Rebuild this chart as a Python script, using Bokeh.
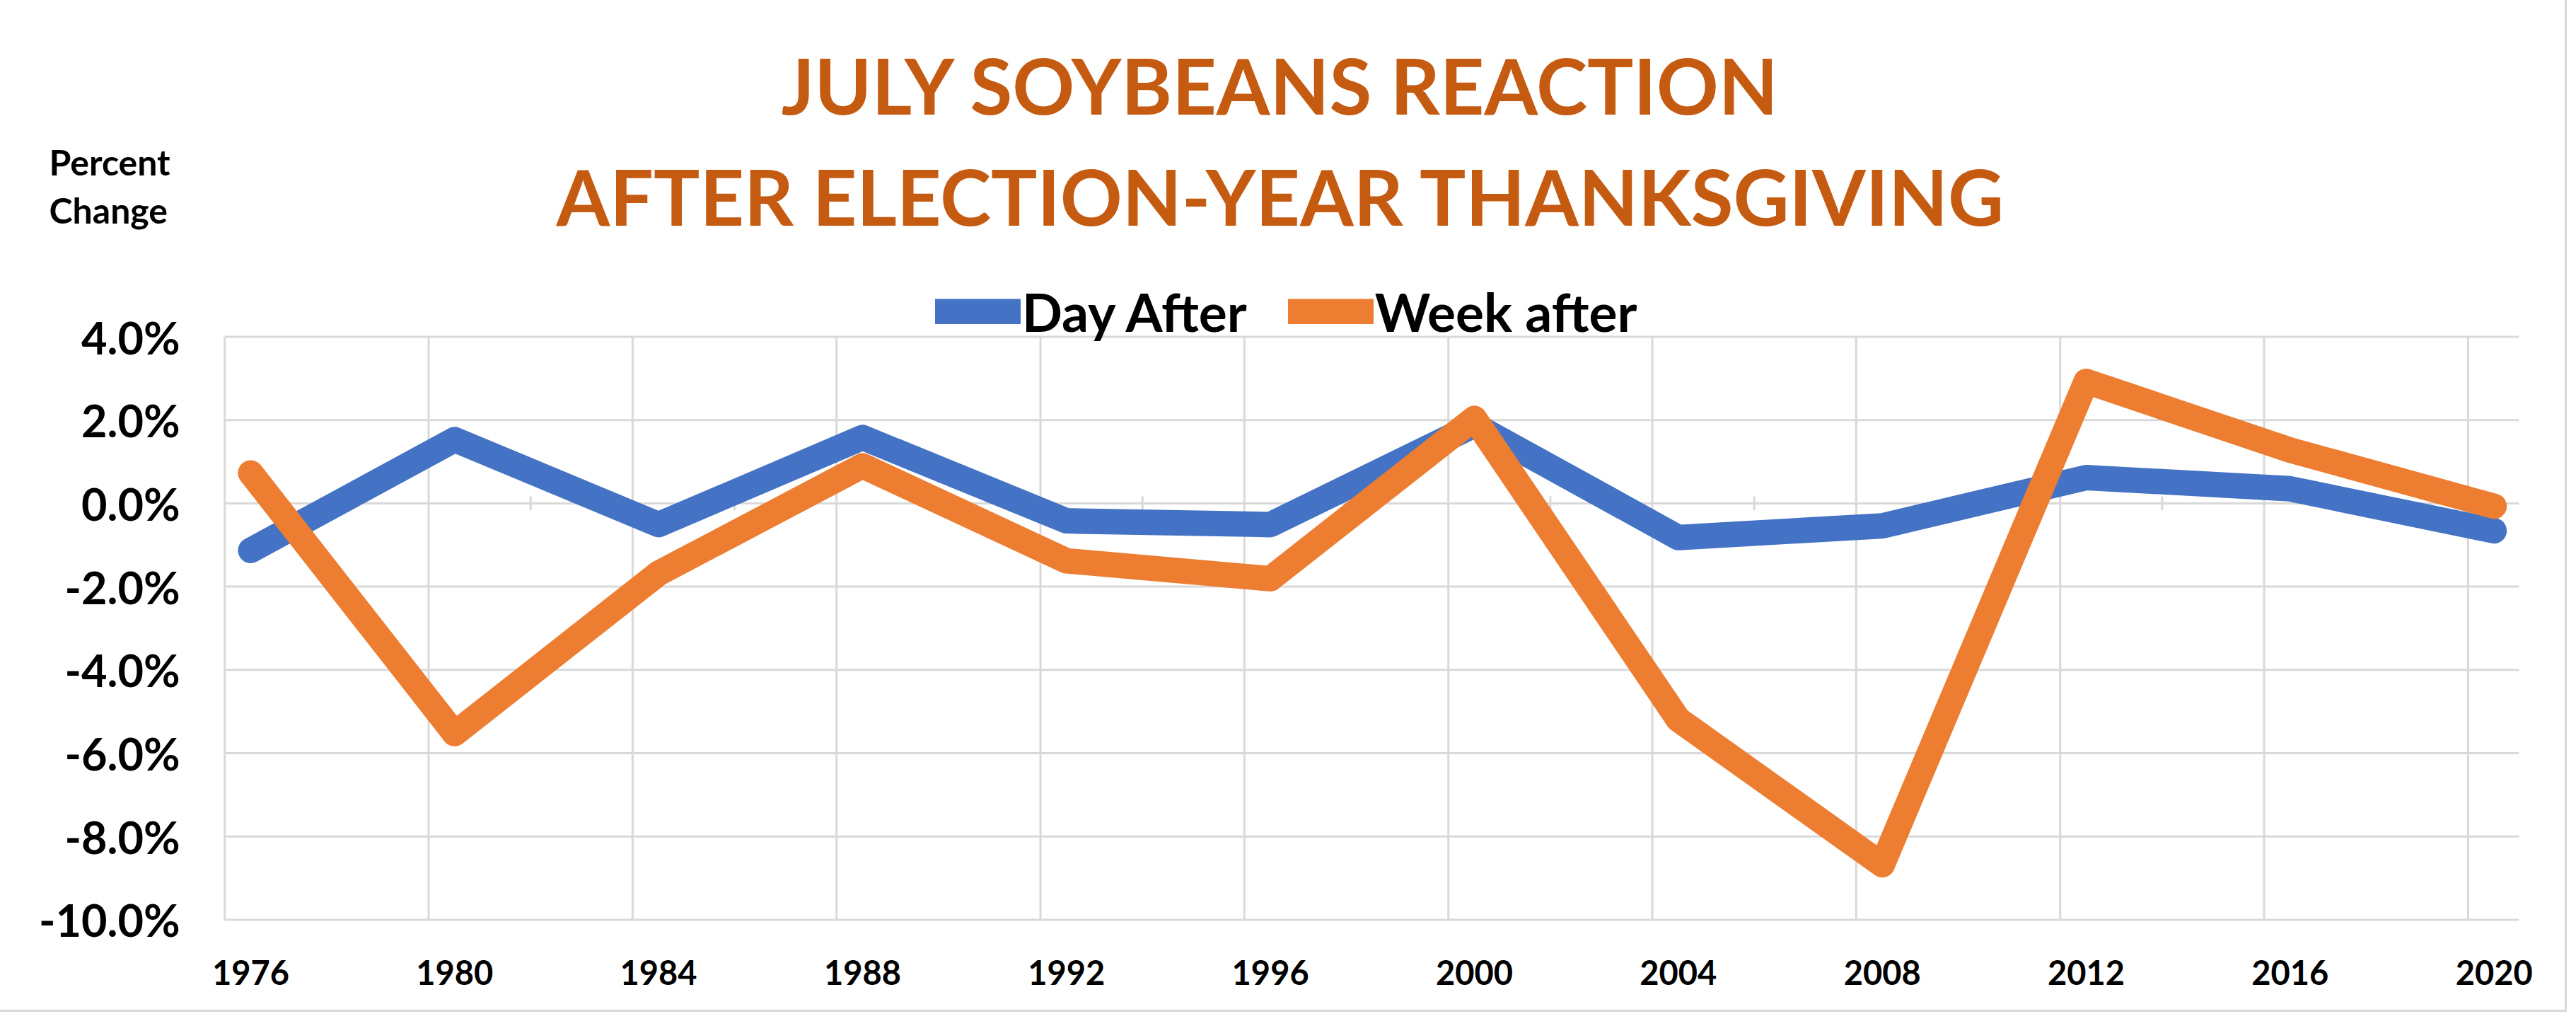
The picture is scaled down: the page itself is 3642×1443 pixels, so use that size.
from bokeh.plotting import figure
from bokeh.models import (Range1d, FixedTicker, PrintfTickFormatter, Legend,
                          Label, ColumnDataSource)
from bokeh.embed import file_html
from bokeh.resources import INLINE

# ---- data (percent change) ----
years = [1976, 1980, 1984, 1988, 1992, 1996, 2000, 2004, 2008, 2012, 2016, 2020]
day_after = [-1.13, 1.53, -0.51, 1.58, -0.42, -0.51, 1.88, -0.82, -0.54, 0.62, 0.35, -0.66]
week_after = [0.73, -5.53, -1.68, 0.90, -1.38, -1.81, 2.04, -5.19, -8.68, 2.93, 1.28, -0.07]
y_ticks = [-10, -8, -6, -4, -2, 0, 2, 4]
title_lines = ["JULY SOYBEANS REACTION", "AFTER ELECTION-YEAR THANKSGIVING"]
y_label_lines = ["Percent", "Change"]
series_names = ["Day After", "Week after"]

BLUE = "#4472C4"
ORANGE = "#ED7D31"
GRID = "#D9D9D9"
TITLE_COLOR = "#C55A11"
FONT = "Lato"

W, H = 3626, 1427
BOTTOM = 87           # space below the frame for the year labels
RIGHT = 65

x_grid0 = years[0] - 0.51                  # left edge of the plot area
x_end = years[-1] + 0.49
grid_x = [x_grid0 + 4 * k for k in range(len(years))]
minor_x = [g + 2 for g in grid_x[:-1]]

# frame spans the whole figure (except the year-label strip and a right margin)
p = figure(width=W, height=H, output_backend="svg", toolbar_location=None,
           x_range=Range1d(1971.09, x_end),
           y_range=Range1d(-10.69, 12.08),
           min_border_left=0, min_border_right=RIGHT,
           min_border_top=0, min_border_bottom=BOTTOM,
           background_fill_color="white", border_fill_color="white")
p.outline_line_color = None
p.styles = {"outline": "3px solid #D9D9D9"}
p.xgrid.visible = False
p.ygrid.visible = False

# gridlines, limited to the plot area
n_y = len(y_ticks)
p.segment(x0=[x_grid0] * n_y, x1=[x_end] * n_y, y0=y_ticks, y1=y_ticks,
          line_color=GRID, line_width=3)
p.segment(x0=grid_x, x1=grid_x, y0=[y_ticks[0]] * len(grid_x), y1=[y_ticks[-1]] * len(grid_x),
          line_color=GRID, line_width=3)
# small tick marks on the zero line
p.segment(x0=minor_x, x1=minor_x, y0=[-0.17] * len(minor_x), y1=[0.17] * len(minor_x),
          line_color=GRID, line_width=3)

# axes
p.xaxis.ticker = FixedTicker(ticks=years)
p.yaxis.ticker = FixedTicker(ticks=y_ticks)
p.yaxis.formatter = PrintfTickFormatter(format="%.1f%%")
p.yaxis.fixed_location = x_grid0
for ax in (p.xaxis, p.yaxis):
    ax.axis_line_color = None
    ax.major_tick_line_color = None
    ax.minor_tick_line_color = None
    ax.major_label_text_font = FONT
    ax.major_label_text_font_style = "bold"
    ax.major_label_text_color = "black"
p.yaxis.major_label_text_font_size = "63px"
p.yaxis.major_label_standoff = 57
p.xaxis.major_label_text_font_size = "47px"
p.xaxis.major_label_standoff = 10

src = ColumnDataSource(dict(year=years, day=day_after, week=week_after))
r1 = p.line("year", "day", source=src, line_color=BLUE, line_width=36,
            line_cap="round", line_join="round")
r2 = p.line("year", "week", source=src, line_color=ORANGE, line_width=36,
            line_cap="round", line_join="round")

frame_h = H - BOTTOM

legend = Legend(items=[(series_names[0], [r1]), (series_names[1], [r2])],
                orientation="horizontal", location=(1322, frame_h - 485),
                glyph_width=121, glyph_height=36, label_standoff=2, spacing=58,
                padding=0, margin=0, border_line_color=None,
                background_fill_alpha=0,
                label_text_font=FONT, label_text_font_style="bold",
                label_text_font_size="75px", label_text_color="black")
p.add_layout(legend, "center")

# title (two lines), positioned from the top of the figure
for txt, top_y in zip(title_lines, [119, 276]):
    p.add_layout(Label(x=1811, y=frame_h - top_y, x_units="screen", y_units="screen",
                       text=txt, text_align="center", text_baseline="alphabetic",
                       text_font=FONT, text_font_style="bold",
                       text_font_size="109px", text_color=TITLE_COLOR))

# axis caption
for txt, top_y in zip(y_label_lines, [228, 296]):
    p.add_layout(Label(x=69, y=frame_h - top_y, x_units="screen", y_units="screen",
                       text=txt, text_align="left", text_baseline="alphabetic",
                       text_font=FONT, text_font_style="bold",
                       text_font_size="50px", text_color="black"))

open("out.html", "w").write(file_html(p, INLINE))
